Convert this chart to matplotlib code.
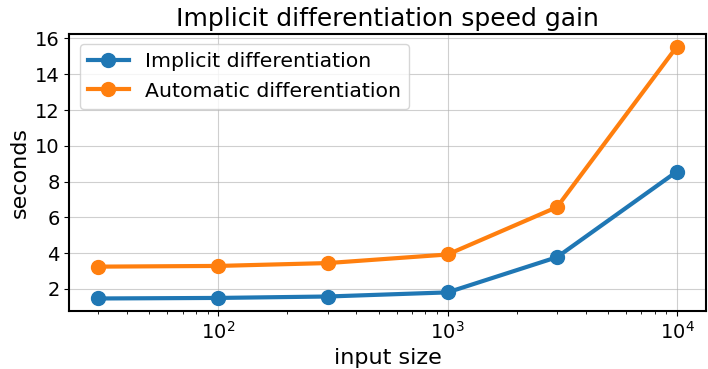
import numpy as np
import matplotlib
matplotlib.use("Agg")
import matplotlib.pyplot as plt

# input sizes and timings (seconds)
sizes = [30, 100, 300, 1000, 3000, 10000]
implicit_times = [1.46, 1.49, 1.57, 1.80, 3.77, 8.56]
automatic_times = [3.24, 3.28, 3.44, 3.92, 6.57, 15.55]

fig, ax = plt.subplots(figsize=(7.08, 3.69), dpi=100)

ax.plot(sizes, implicit_times, marker='o', markersize=10, linewidth=3,
        color='#1f77b4', label='Implicit differentiation')
ax.plot(sizes, automatic_times, marker='o', markersize=10, linewidth=3,
        color='#ff7f0e', label='Automatic differentiation')

ax.set_xscale('log')
ax.set_xlabel('input size', fontsize=16)
ax.set_ylabel('seconds', fontsize=16)
ax.set_title('Implicit differentiation speed gain', fontsize=18)
ax.set_yticks([2, 4, 6, 8, 10, 12, 14, 16])
ax.tick_params(labelsize=14)
ax.grid(True, color='#b0b0b0', alpha=0.6)
for s in ax.spines.values():
    s.set_linewidth(1.5)
ax.legend(loc='upper left', fontsize=14.7)

fig.subplots_adjust(left=0.098, right=0.997, top=0.908, bottom=0.157)
fig.savefig('out.png', dpi=100)
